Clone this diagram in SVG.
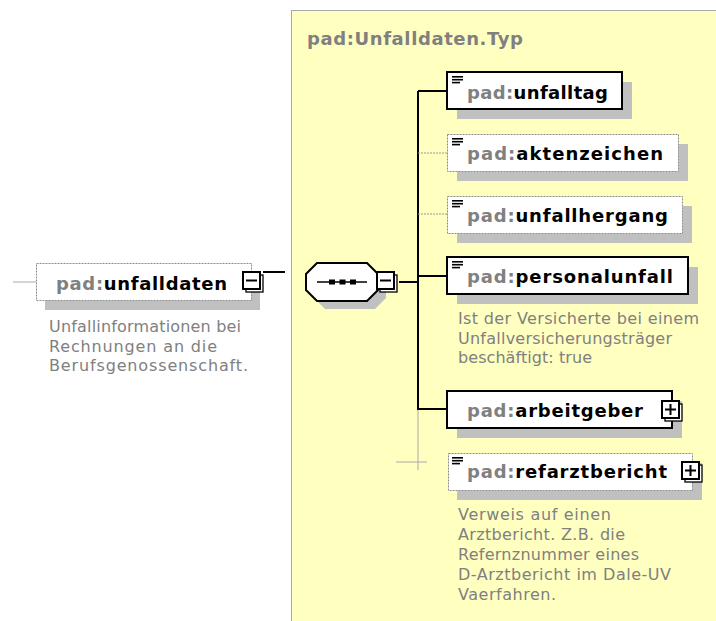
<svg xmlns="http://www.w3.org/2000/svg" xmlns:xlink="http://www.w3.org/1999/xlink" width="716" height="621" viewBox="0 0 716 621">
<style>
.bg{fill:#ffffc0;stroke:#a8a8a8;stroke-width:1}
.sh{fill:#c0c0c0}
.bs{fill:#fff;stroke:#000;stroke-width:2}
.bd{fill:#fff;stroke:#8c8c8c;stroke-width:1;stroke-dasharray:2,1}
.nm{font-family:"DejaVu Sans","Liberation Sans",sans-serif;font-weight:bold;font-size:18px;fill:#000}
.ns{fill:#808080}
.ttl{font-family:"DejaVu Sans","Liberation Sans",sans-serif;font-weight:bold;font-size:18px;fill:#808080}
.ds{font-family:"DejaVu Sans","Liberation Sans",sans-serif;font-size:16px;fill:#808080}
.c{stroke:#000;stroke-width:2;fill:none}
.co{stroke:#999;stroke-width:1;fill:none;stroke-dasharray:2,1}
.cg{stroke:#aaa;stroke-width:1;fill:none}
</style>
<defs>
<g id="ico"><rect x="0" y="0" width="11" height="1.6" fill="#000"/><rect x="0" y="2.9" width="11" height="1.6" fill="#000"/><rect x="0" y="5.8" width="8" height="1.6" fill="#000"/></g>
<g id="minus"><rect x="4" y="4" width="17" height="17" fill="#fff" stroke="#000" stroke-width="1.3"/><rect x="1" y="1" width="17" height="17" fill="#fff" stroke="#000" stroke-width="2"/><path d="M4 9.5H15" stroke="#000" stroke-width="2"/></g>
<g id="plus"><rect x="4" y="4" width="17" height="17" fill="#fff" stroke="#000" stroke-width="1.3"/><rect x="1" y="1" width="17" height="17" fill="#fff" stroke="#000" stroke-width="2"/><path d="M4 9.5H15M9.5 4V15" stroke="#000" stroke-width="2"/></g>
</defs>

<rect class="bg" x="291.5" y="10.5" width="440" height="630"/>
<g id="n-type">
<text class="ttl" x="307" y="45" textLength="216" lengthAdjust="spacing">pad:Unfalldaten.Typ</text>
</g>

<g id="connectors">
<path class="cg" d="M13 282H36"/>
<path class="c" d="M263 272H285"/>
<path class="c" d="M399 282H418"/>
<path class="c" d="M418 91V410"/>
<path class="cg" d="M418 410V470"/>
<path class="c" d="M418 91H447"/>
<path class="co" d="M418 153H447"/>
<path class="co" d="M418 214H447"/>
<path class="c" d="M418 276H447"/>
<path class="c" d="M418 409H447"/>
<path class="cg" d="M396 462H427"/>
</g>

<g id="n-unfalldaten">
<rect class="sh" x="45" y="273" width="215" height="37"/>
<rect class="bd" x="36.5" y="263.5" width="215" height="37"/>
<text class="nm" x="56" y="290" textLength="171" lengthAdjust="spacing"><tspan class="ns">pad:</tspan>unfalldaten</text>
<use xlink:href="#minus" x="242" y="271"/>
<text class="ds" x="49" y="332" textLength="192" lengthAdjust="spacing">Unfallinformationen bei</text>
<text class="ds" x="49" y="351.5" textLength="168" lengthAdjust="spacing">Rechnungen an die</text>
<text class="ds" x="49" y="371" textLength="199" lengthAdjust="spacing">Berufsgenossenschaft.</text>
</g>

<g id="n-sequence">
<path class="sh" d="M325 271H375L386 282V298L375 309H325L314 298V282Z"/>
<path d="M317 263H367L378 274V290L367 301H317L306 290V274Z" fill="#fff" stroke="#000" stroke-width="2"/>
<path d="M317 282H367" stroke="#000" stroke-width="1.5"/>
<rect x="329" y="279.5" width="6" height="5" fill="#000"/>
<rect x="339.5" y="279.5" width="6" height="5" fill="#000"/>
<rect x="350" y="279.5" width="6" height="5" fill="#000"/>
<use xlink:href="#minus" x="376" y="271"/>
</g>

<g id="n-unfalltag">
<rect class="sh" x="457" y="82" width="175" height="37"/>
<rect class="bs" x="447" y="72" width="175" height="37"/>
<use xlink:href="#ico" x="452" y="76"/>
<text class="nm" x="467" y="99" textLength="141" lengthAdjust="spacing"><tspan class="ns">pad:</tspan>unfalltag</text>
</g>

<g id="n-aktenzeichen">
<rect class="sh" x="457" y="144" width="231" height="37"/>
<rect class="bd" x="447.5" y="134.5" width="231" height="37"/>
<use xlink:href="#ico" x="452" y="138"/>
<text class="nm" x="467" y="160" textLength="196" lengthAdjust="spacing"><tspan class="ns">pad:</tspan>aktenzeichen</text>
</g>

<g id="n-unfallhergang">
<rect class="sh" x="457" y="206" width="235" height="37"/>
<rect class="bd" x="447.5" y="196.5" width="235" height="37"/>
<use xlink:href="#ico" x="452" y="200"/>
<text class="nm" x="467" y="222" textLength="201" lengthAdjust="spacing"><tspan class="ns">pad:</tspan>unfallhergang</text>
</g>

<g id="n-personalunfall">
<rect class="sh" x="457" y="267" width="241" height="37"/>
<rect class="bs" x="447" y="257" width="241" height="37"/>
<use xlink:href="#ico" x="452" y="261"/>
<text class="nm" x="467" y="283" textLength="206" lengthAdjust="spacing"><tspan class="ns">pad:</tspan>personalunfall</text>
<text class="ds" x="458" y="324" textLength="241" lengthAdjust="spacing">Ist der Versicherte bei einem</text>
<text class="ds" x="458" y="343.5" textLength="214" lengthAdjust="spacing">Unfallversicherungsträger</text>
<text class="ds" x="458" y="363" textLength="134" lengthAdjust="spacing">beschäftigt: true</text>
</g>

<g id="n-arbeitgeber">
<rect class="sh" x="457" y="401" width="225" height="37"/>
<rect class="bs" x="447" y="391" width="225" height="37"/>
<text class="nm" x="467" y="417" textLength="176" lengthAdjust="spacing"><tspan class="ns">pad:</tspan>arbeitgeber</text>
<use xlink:href="#plus" x="661" y="400"/>
</g>

<g id="n-refarztbericht">
<rect class="sh" x="457" y="463" width="245" height="37"/>
<rect class="bd" x="448.5" y="453.5" width="244" height="37"/>
<use xlink:href="#ico" x="452" y="457"/>
<text class="nm" x="467" y="478" textLength="200" lengthAdjust="spacing"><tspan class="ns">pad:</tspan>refarztbericht</text>
<use xlink:href="#plus" x="681" y="461"/>
<text class="ds" x="458" y="520" textLength="153" lengthAdjust="spacing">Verweis auf einen</text>
<text class="ds" x="458" y="540" textLength="167" lengthAdjust="spacing">Arztbericht. Z.B. die</text>
<text class="ds" x="458" y="560" textLength="181" lengthAdjust="spacing">Refernznummer eines</text>
<text class="ds" x="458" y="580" textLength="213" lengthAdjust="spacing">D-Arztbericht im Dale-UV</text>
<text class="ds" x="458" y="600" textLength="98" lengthAdjust="spacing">Vaerfahren.</text>
</g>
</svg>
